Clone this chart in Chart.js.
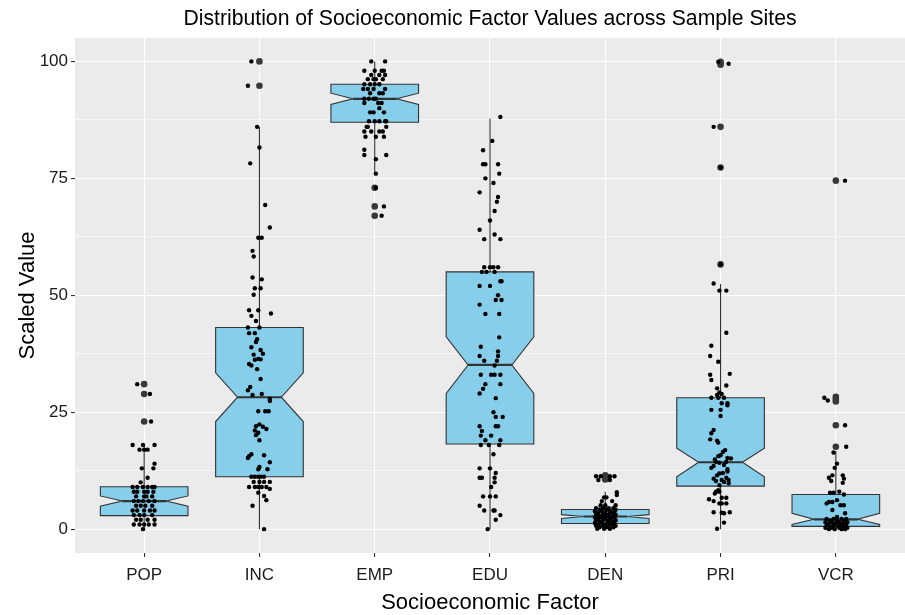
<!DOCTYPE html>
<html>
<head>
<meta charset="utf-8">
<script src="https://cdn.jsdelivr.net/npm/chart.js@4.4.1/dist/chart.umd.min.js"></script>
<style>
  html, body { margin: 0; padding: 0; background: #fff; }
</style>
</head>
<body>
<canvas id="myChart" width="905" height="615"></canvas>
<script>
// Categories and box statistics
const factors = ["POP", "INC", "EMP", "EDU", "DEN", "PRI", "VCR"];
const whiskerLow  = [0,    0,    76.1, 0,    0,   0,    0];
const lowerHinge  = [2.9,  11.2, 87.0, 18.2, 1.2, 9.2,  0.6];
const notchLow    = [4.9,  23.0, 90.8, 29.0, 2.3, 11.2, 1.0];
const medians     = [6.0,  28.2, 92.0, 35.1, 2.7, 14.3, 2.1];
const notchHigh   = [7.1,  33.4, 93.2, 41.1, 3.1, 17.3, 3.4];
const upperHinge  = [9.05, 43.1, 95.1, 55.0, 4.2, 28.1, 7.4];
const whiskerHigh = [18,   86,   100,  87.8, 8.0, 52.4, 16.7];

// Outliers per category
const outliers = [
  [31.0, 28.9, 23.0],
  [100, 94.8],
  [73.0, 69.0, 67.0],
  [],
  [11.5, 11.2, 10.9, 10.6],
  [99.9, 99.6, 99.3, 86, 77.3, 56.6],
  [74.5, 28.3, 27.8, 27.3, 22.2, 17.6]
];

// Jittered observations: [horizontal jitter in category units, value]
const popPoints = [
  [-0.06,31],[0.05,28.9],[0.06,23],[-0.10,18],[-0.01,18],[0.09,18],[-0.04,17],[0,17],[0.03,17],
  [0.09,14],[-0.02,13],[0.08,13],[0.03,11],[-0.03,10],
  [-0.10,9],[-0.06,9],[-0.01,9],[0.03,9],[0.07,9],[0.09,9],
  [-0.09,8],[-0.06,8],[0,8],[0.03,8],[0.08,8],
  [-0.07,7],[0,7],[0.02,7],[0.07,7],
  [-0.09,6],[-0.05,6],[-0.01,6],[0.04,6],[0.09,6],
  [-0.07,5],[-0.03,5],[0.01,5],[0.07,5],
  [-0.10,4],[-0.06,4],[0,4],[0.05,4],[0.09,4],
  [-0.09,3],[-0.04,3],[0,3],[0.07,3],
  [-0.07,2],[-0.03,2],[0.03,2],[0.09,2],
  [-0.09,1],[-0.04,1],[0,1],[0.04,1],[0.09,1],
  [-0.01,0]
];
const incPoints = [
  [-0.07,100],[-0.10,94.8],[-0.02,86],[0,81.6],[-0.08,78.2],[0.05,69.3],[0.09,64.5],
  [-0.01,62.3],[0.02,62.3],[-0.06,59.5],[-0.05,58.3],[-0.06,53.8],[0.02,53.4],
  [-0.04,51.5],[0.01,51.5],[-0.05,50.1],[-0.09,46.8],[-0.01,46.8],[-0.07,45.6],[0.10,46.1],
  [-0.03,44.5],[-0.10,43.1],[0,43.1],[-0.09,41.9],[-0.04,41.9],[-0.03,40],[-0.02,40.6],
  [-0.07,38.9],[0.01,38.3],[0.03,37.5],[-0.05,37.3],[-0.01,36.4],[0.01,36.3],[-0.04,36.2],
  [-0.09,35.3],[-0.07,35.0],[-0.02,34.2],[0.01,32.1],[-0.08,30.4],[-0.10,29.7],
  [-0.06,28.7],[0.02,28.9],[0.09,27.9],[0.09,27.4],[-0.01,25.2],[0.05,25.2],[0.08,25.2],
  [0,22.4],[-0.03,22.0],[0.03,21.9],[0.06,21.4],[-0.04,21.1],[-0.01,20.6],[-0.03,20.1],
  [0,19.0],[-0.09,15.6],[-0.07,16.0],[-0.10,15.2],[0.04,15.8],[0.09,14.3],[0,13.3],
  [-0.01,12.8],[0.07,12.8],
  [-0.07,11.2],[-0.04,11.2],[-0.01,11.2],[0.01,11.2],[0.04,11.2],
  [-0.05,10.1],[0,10.1],[0.04,10.1],[0.09,10.1],
  [-0.09,9.0],[-0.04,9.0],[-0.01,9.0],[0.02,9.0],[0.06,9.0],[0.09,8.6],
  [-0.01,7.8],[0.04,7.1],[0.06,6.2],[-0.06,5.0],[0.04,0]
];
const empPoints = [
  [-0.03,100],[0.09,100],[-0.09,98],[0,98],[0.06,98],[0.08,98],
  [-0.03,97.1],[0.04,97.1],[0.09,97.1],
  [-0.06,96.2],[-0.01,96.2],[0.01,96.2],[0.07,96.2],
  [-0.09,95.1],[-0.04,95.1],[0,95.1],[0.04,95.1],
  [-0.10,94.1],[-0.06,94.1],[-0.01,94.1],[0.09,94.1],
  [-0.04,93.2],[0.04,93.2],[0.07,93.2],
  [-0.09,92.0],[-0.05,92.0],[-0.01,92.0],[0.01,92.0],
  [-0.09,91.1],[0.03,91.1],[0.06,91.1],[0.04,90],
  [-0.04,89.1],[-0.01,89.1],[0.08,89.1],
  [-0.05,87.2],[0,87.2],[0.04,87.2],[0.09,87.2],[0.10,87.2],
  [-0.07,86],[-0.06,86],[0.10,86],
  [-0.09,85],[-0.03,85],[0.04,85],[0.07,85],
  [-0.08,83.9],[0.01,83.9],[0.08,83.9],
  [-0.09,81.1],[-0.09,80],[0.10,80],[0.01,79.1],[0.01,76],
  [0.01,73],[0.08,69],[0.06,67]
];
const eduPoints = [
  [0.09,88.1],[0.02,83],[-0.06,81],[-0.06,78],[-0.04,78],[0.07,78],[0.08,76],[-0.04,75],
  [0.03,74],[-0.09,72],[0.07,71],[0.06,70],[0.04,68],[0,66],[-0.09,64],[0.04,63],
  [-0.05,62],[0.09,62],[-0.05,56],[0,56],[0.03,56],[0.07,56],[-0.07,55],[-0.03,55],[0.04,55],
  [0.09,53],[0.10,53],[-0.09,52],[0,52],[0.07,50],[0.05,49],[0.10,49],[-0.09,48],
  [-0.04,46],[0.08,46],[0.08,41],[-0.08,39],[0.07,38],[-0.09,37],[0.07,37],[-0.05,36],[0.06,36],
  [0.04,35],[-0.08,33],[0.01,33],[0.04,33],[0.09,33],[-0.04,31],[0.09,31],[-0.06,30],
  [-0.09,29],[0.05,28],[0.03,25],[0.05,24],[0.11,24],[-0.09,22],[0.05,22],[0.07,22],
  [-0.07,21],[-0.08,20],[0.01,20],[-0.04,19],[0.09,19],[-0.08,18],[-0.01,18],[0.08,18],
  [0.03,16],[-0.09,13],[0,13],[0.05,12],[-0.09,11],[-0.07,11],[0.04,11],[0.04,10],[0.01,9],
  [-0.06,7],[0,7],[0.05,7],[-0.09,5],[-0.05,4],[0.03,4],[0.04,4],[0.09,3],[0.05,2],[-0.02,0]
];
const denPoints = [
  [-0.08,11.3],[-0.04,11.3],[0.04,11.3],[0.08,11.3],[-0.06,10.5],[0.04,10.5],
  [0.10,7.9],[0.10,7.3],[-0.01,6.8],[0.01,6.8],[-0.03,6],[0.06,6],[0,5.1],[0.09,5.1],[-0.04,5.1],
  [-0.08,4.5],[-0.02,4.5],[0.03,4.5],[0.07,4.5],[-0.05,4.2],[0.01,4.2],[0.09,4.2],
  [-0.09,3.8],[-0.03,3.8],[0.04,3.8],[0.08,3.8],[-0.06,3.5],[0,3.5],[0.06,3.5],
  [-0.08,3.1],[-0.02,3.1],[0.03,3.1],[0.09,3.1],[-0.05,2.8],[0.01,2.8],[0.07,2.8],
  [-0.09,2.5],[-0.03,2.5],[0.04,2.5],[0.08,2.5],[-0.06,2.2],[0,2.2],[0.05,2.2],
  [-0.08,1.9],[-0.02,1.9],[0.03,1.9],[0.09,1.9],[-0.05,1.6],[0.02,1.6],[0.07,1.6],
  [-0.09,1.3],[-0.03,1.3],[0.04,1.3],[0.08,1.3],[-0.06,1.0],[0,1.0],[0.06,1.0],
  [-0.08,0.7],[-0.02,0.7],[0.03,0.7],[0.09,0.7],[-0.05,0.4],[0.01,0.4],[0.07,0.4],
  [-0.07,0.1],[-0.01,0.1],[0.04,0.1]
];
const priPoints = [
  [-0.02,99.9],[0.07,99.5],[-0.06,86],[0,77.3],[0,56.6],[-0.06,52.5],[-0.01,51],[0.05,51],
  [0.05,42],[-0.08,39.2],[-0.09,37],[-0.02,35.8],[-0.09,33],[-0.08,31.9],[0.08,33.2],
  [-0.03,30.1],[0.05,30.7],[-0.01,29.2],[-0.03,28.7],[0.01,28.9],[-0.08,28.1],[-0.02,28.1],
  [0.03,28.1],[0.01,26.9],[0.06,26.9],[0.06,26.5],[-0.08,25.5],[0,25.5],[0,24.2],
  [-0.06,21.2],[-0.08,20.5],[-0.09,19.2],[-0.03,18.9],[-0.02,18.5],[0.04,16.9],[0.02,16.5],
  [-0.02,15.6],[0.06,15.2],[0.09,15.1],[-0.05,14.9],[-0.04,14.4],[-0.01,14.2],[0.05,14.4],
  [0.03,13.7],[-0.08,13.1],[0.06,12.8],[0.06,12.3],[-0.01,11.9],[0,15.8],[-0.06,13.5],
  [0.02,12.0],[-0.03,11.5],[0.05,11.0],[-0.06,10.8],[-0.04,10.3],[0.01,10.5],[0.03,10.1],
  [0.07,10.5],[0.07,9.8],[-0.01,9.4],[-0.02,8.3],[-0.04,8.0],[-0.05,7.6],[-0.01,8.0],
  [-0.10,6.4],[-0.06,6.0],[0.01,6.7],[0.05,6.7],[0.01,5.5],[-0.01,5.5],[0.05,5.5],
  [-0.06,3.6],[0.08,3.6],[0.01,3.5],[0.03,3.4],[0.03,1.4],[-0.03,0.1]
];
const vcrPoints = [
  [0.08,74.5],[-0.10,28.1],[-0.07,27.5],[0.08,22.2],[0.09,17.6],[-0.02,16.4],[0.01,14.0],
  [-0.01,13.1],[-0.06,11.0],[-0.03,11.5],[0.06,11.5],[0.07,10.8],[-0.04,10.3],[0.06,9.9],
  [-0.05,7.8],[-0.02,7.8],[0.03,8.0],[0.07,7.4],[-0.06,5.8],[-0.03,5.8],[-0.08,5.5],
  [0.01,6.2],[0.04,5.1],[0.07,5.1],[-0.03,4.1],[0.08,3.4],[0.01,2.6],
  [-0.08,2.2],[-0.02,2.2],[0.05,2.2],[0.09,2.2],[-0.05,1.8],[0.01,1.8],[0.07,1.8],
  [-0.09,1.5],[-0.03,1.5],[0.03,1.5],[0.10,1.5],[-0.06,1.2],[0,1.2],[0.06,1.2],
  [-0.08,0.9],[-0.02,0.9],[0.04,0.9],[0.09,0.9],[-0.05,0.6],[0.02,0.6],[0.07,0.6],
  [-0.09,0.3],[-0.03,0.3],[0.03,0.3],[0.10,0.3],[-0.06,0],[-0.01,0],[0.05,0],[0.08,0]
];
const jitterByFactor = [popPoints, incPoints, empPoints, eduPoints, denPoints, priPoints, vcrPoints];

const yTicks = [0, 12.5, 25, 37.5, 50, 62.5, 75, 87.5, 100];
const yLabels = [0, 25, 50, 75, 100];

const BOX_WIDTH = 0.76;
const FONT = '"Liberation Sans", Arial, sans-serif';

// Build scatter data from the arrays
const jitterData = [];
jitterByFactor.forEach(function (pts, i) {
    pts.forEach(function (p) { jitterData.push({x: i + 1 + p[0], y: p[1]}); });
});
const outlierData = [];
outliers.forEach(function (vals, i) {
    vals.forEach(function (v) { outlierData.push({x: i + 1, y: v}); });
});

// Grey panel behind the grid
const panelPlugin = {
    id: 'panel',
    beforeDraw(chart) {
        const a = chart.chartArea, ctx = chart.ctx;
        ctx.save();
        ctx.fillStyle = '#EBEBEB';
        ctx.fillRect(a.left, a.top, a.right - a.left, a.bottom - a.top);
        ctx.restore();
    }
};

// Notched boxes with whiskers, drawn through the scales
const boxPlugin = {
    id: 'notchBoxes',
    beforeDatasetsDraw(chart) {
        const ctx = chart.ctx, x = chart.scales.x, y = chart.scales.y, a = chart.chartArea;
        ctx.save();
        ctx.beginPath();
        ctx.rect(a.left, a.top, a.right - a.left, a.bottom - a.top);
        ctx.clip();
        for (let i = 0; i < factors.length; i++) {
            const c = i + 1;
            const xl = x.getPixelForValue(c - BOX_WIDTH / 2);
            const xr = x.getPixelForValue(c + BOX_WIDTH / 2);
            const xm = x.getPixelForValue(c);
            const nl = x.getPixelForValue(c - BOX_WIDTH / 4);
            const nr = x.getPixelForValue(c + BOX_WIDTH / 4);
            const q1 = y.getPixelForValue(lowerHinge[i]);
            const q3 = y.getPixelForValue(upperHinge[i]);
            const md = y.getPixelForValue(medians[i]);
            const nlo = y.getPixelForValue(notchLow[i]);
            const nhi = y.getPixelForValue(notchHigh[i]);

            ctx.strokeStyle = '#333333';
            ctx.lineWidth = 1.1;
            ctx.beginPath();
            ctx.moveTo(xm, q3); ctx.lineTo(xm, y.getPixelForValue(whiskerHigh[i]));
            ctx.moveTo(xm, q1); ctx.lineTo(xm, y.getPixelForValue(whiskerLow[i]));
            ctx.stroke();

            ctx.beginPath();
            ctx.moveTo(xl, q3);
            ctx.lineTo(xl, nhi);
            ctx.lineTo(nl, md);
            ctx.lineTo(xl, nlo);
            ctx.lineTo(xl, q1);
            ctx.lineTo(xr, q1);
            ctx.lineTo(xr, nlo);
            ctx.lineTo(nr, md);
            ctx.lineTo(xr, nhi);
            ctx.lineTo(xr, q3);
            ctx.closePath();
            ctx.fillStyle = '#87CEEB';
            ctx.fill();
            ctx.stroke();

            ctx.lineWidth = 2.2;
            ctx.beginPath();
            ctx.moveTo(nl, md); ctx.lineTo(nr, md);
            ctx.stroke();
        }
        ctx.restore();
    }
};

// Title and axis titles
const textPlugin = {
    id: 'titles',
    afterDraw(chart) {
        const ctx = chart.ctx, a = chart.chartArea;
        const cx = (a.left + a.right) / 2;
        ctx.save();
        ctx.fillStyle = '#000';
        ctx.textAlign = 'center';
        ctx.textBaseline = 'middle';
        ctx.font = '21.2px ' + FONT;
        ctx.fillText('Distribution of Socioeconomic Factor Values across Sample Sites', cx, 19);
        ctx.font = '22px ' + FONT;
        ctx.fillText('Socioeconomic Factor', cx, 603);
        ctx.translate(28, (a.top + a.bottom) / 2);
        ctx.rotate(-Math.PI / 2);
        ctx.fillText('Scaled Value', 0, 0);
        ctx.restore();
    }
};

const ctx = document.getElementById('myChart');
const chart = new Chart(ctx, {
    type: 'scatter',
    data: {
        datasets: [{
            label: 'observations',
            data: jitterData,
            backgroundColor: '#000',
            borderWidth: 0,
            pointRadius: 2.2
        }, {
            label: 'outliers',
            data: outlierData,
            backgroundColor: '#383838',
            borderWidth: 0,
            pointRadius: 3.3
        }]
    },
    options: {
        responsive: false,
        animation: false,
        devicePixelRatio: 1,
        layout: { autoPadding: false, padding: { top: 38, left: 0, right: 0, bottom: 0 } },
        plugins: {
            legend: { display: false },
            tooltip: { enabled: false },
            title: { display: false }
        },
        scales: {
            x: {
                type: 'linear',
                min: 0.4,
                max: 7.6,
                afterBuildTicks: function (scale) {
                    scale.ticks = factors.map(function (f, i) { return {value: i + 1}; });
                },
                afterFit: function (scale) { scale.height = 62; },
                border: { display: false },
                grid: {
                    color: '#FFFFFF',
                    lineWidth: 1.1,
                    drawTicks: true,
                    tickLength: 4,
                    tickColor: '#333333',
                    tickWidth: 1.1
                },
                ticks: {
                    autoSkip: false,
                    maxRotation: 0,
                    padding: 8,
                    color: '#1a1a1a',
                    font: { family: FONT, size: 17 },
                    callback: function (v) { return factors[Math.round(v) - 1]; }
                }
            },
            y: {
                min: -5.1,
                max: 105,
                afterBuildTicks: function (scale) {
                    scale.ticks = yTicks.map(function (v) { return {value: v}; });
                },
                afterFit: function (scale) { scale.width = 75; },
                border: { display: false },
                grid: {
                    color: '#FFFFFF',
                    lineWidth: function (c) {
                        return (c.tick && yLabels.indexOf(c.tick.value) >= 0) ? 1.1 : 0.55;
                    },
                    drawTicks: true,
                    tickLength: 4,
                    tickWidth: 1.1,
                    tickColor: function (c) {
                        return (c.tick && yLabels.indexOf(c.tick.value) >= 0) ? '#333333' : 'rgba(0,0,0,0)';
                    }
                },
                ticks: {
                    padding: 3,
                    color: '#1a1a1a',
                    font: { family: FONT, size: 17 },
                    callback: function (v) { return yLabels.indexOf(v) >= 0 ? String(v) : ''; }
                }
            }
        }
    },
    plugins: [panelPlugin, boxPlugin, textPlugin]
});
</script>
</body>
</html>
